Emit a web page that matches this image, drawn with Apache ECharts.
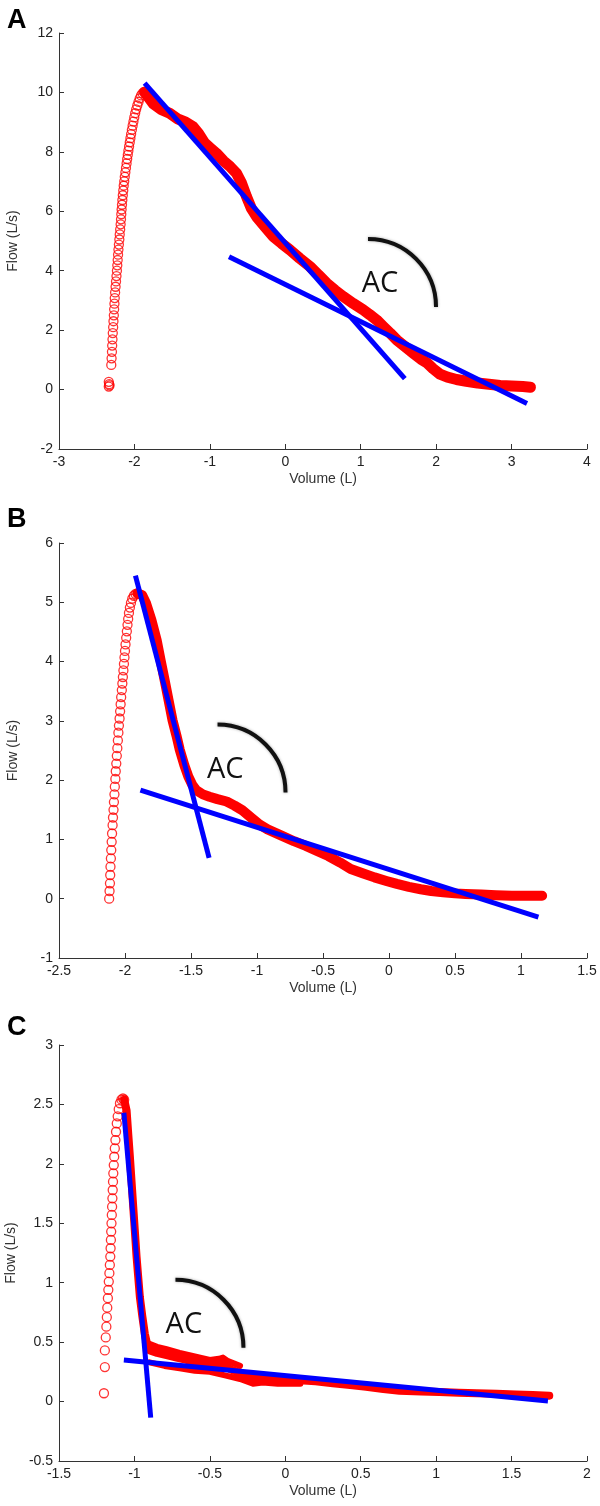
<!DOCTYPE html>
<html>
<head>
<meta charset="utf-8">
<script src="https://cdn.jsdelivr.net/npm/echarts@6/dist/echarts.min.js"></script>
<style>
html,body{margin:0;padding:0;background:#fff;}
#chart{width:600px;height:1506px;}
</style>
</head>
<body>
<div id="chart"></div>
<script>
// ---------- DATA (Volume L, Flow L/s) ----------
const panelLabels = ['A', 'B', 'C'];
const xAxisName = 'Volume (L)';
const yAxisName = 'Flow (L/s)';
const annotationText = 'AC';

// axis ranges [min, max, interval]
const aXRange = [-3, 4, 1];
const aYRange = [-2, 12, 2];
const bXRange = [-2.5, 1.5, 0.5];
const bYRange = [-1, 6, 1];
const cXRange = [-1.5, 2, 0.5];
const cYRange = [-0.5, 3, 0.5];

// Panel A
const aRise = [[-2.34,0.10],[-2.335,0.18],[-2.34,0.26],[-2.33,0.14],
[-2.307,0.83],[-2.303,1.05],[-2.298,1.27],[-2.295,1.48],[-2.291,1.69],[-2.287,1.90],[-2.282,2.10],[-2.278,2.30],[-2.273,2.50],[-2.269,2.70],[-2.265,2.89],[-2.261,3.08],[-2.256,3.27],[-2.250,3.46],[-2.244,3.64],[-2.238,3.82],[-2.232,4.00],[-2.227,4.18],[-2.222,4.36],[-2.217,4.54],[-2.212,4.71],[-2.206,4.88],[-2.200,5.05],[-2.195,5.22],[-2.189,5.39],[-2.183,5.56],[-2.178,5.73],[-2.174,5.90],
[-2.170,6.06],[-2.165,6.22],[-2.160,6.38],[-2.154,6.54],[-2.148,6.70],[-2.142,6.86],[-2.135,7.01],[-2.128,7.16],[-2.120,7.31],[-2.112,7.46],[-2.104,7.61],[-2.096,7.76],[-2.088,7.90],[-2.080,8.04],[-2.071,8.18],[-2.062,8.32],[-2.053,8.46],[-2.044,8.60],[-2.034,8.74],[-2.024,8.88],[-2.013,9.02],[-2.002,9.16],[-1.990,9.30],[-1.977,9.43],[-1.962,9.56],[-1.946,9.68],[-1.930,9.80],[-1.912,9.90],[-1.893,9.97],[-1.875,10.02],[-1.860,10.03]];
const aBand = [[-1.86,10.0],[-1.842,9.97],[-1.75,9.62],[-1.64,9.42],[-1.533,9.30],[-1.42,9.10],[-1.32,9.00],[-1.223,8.85],[-1.15,8.62],[-1.07,8.30],[-0.99,8.12],[-0.912,7.95],[-0.82,7.70],[-0.73,7.50],[-0.647,7.28],[-0.58,6.95],[-0.514,6.49],[-0.45,6.10],[-0.381,5.82],[-0.27,5.48],[-0.16,5.15],[-0.05,4.92],[0.061,4.70],[0.19,4.42],[0.327,4.14],[0.44,3.86],[0.548,3.58],[0.66,3.34],[0.769,3.13],[0.90,2.90],[1.034,2.68],[1.12,2.52],[1.212,2.34],[1.30,2.12],[1.39,1.90],[1.478,1.67],[1.59,1.44],[1.70,1.22],[1.80,1.02],[1.877,0.90],[1.96,0.70],[2.05,0.52],[2.15,0.42],[2.27,0.34],[2.40,0.28],[2.55,0.22],[2.70,0.18],[2.85,0.14],[3.00,0.12],[3.15,0.10],[3.25,0.08]];
const aFit1 = [[-1.865,10.31],[1.585,0.37]];
const aFit2 = [[-0.746,4.47],[3.205,-0.47]];
const aText = [1.255,3.57];
const aArc = [1.097,2.78];

// Panel B
const bRise = [[-2.120,0.00],[-2.117,0.13],[-2.114,0.26],[-2.112,0.40],[-2.110,0.54],[-2.107,0.68],[-2.104,0.82],[-2.101,0.96],[-2.098,1.10],[-2.094,1.24],[-2.091,1.37],[-2.087,1.50],[-2.084,1.63],[-2.080,1.76],[-2.077,1.89],[-2.073,2.02],[-2.070,2.15],[-2.066,2.28],[-2.062,2.41],[-2.058,2.54],[-2.054,2.67],[-2.050,2.80],[-2.046,2.92],[-2.041,3.04],[-2.037,3.16],[-2.033,3.28],[-2.029,3.40],[-2.024,3.52],[-2.020,3.63],[-2.016,3.74],[-2.012,3.85],[-2.008,3.96],[-2.004,4.07],[-2.000,4.18],[-1.996,4.29],[-1.991,4.40],[-1.986,4.51],[-1.981,4.62],[-1.976,4.72],[-1.970,4.82],[-1.963,4.91],[-1.955,4.99],[-1.945,5.06],[-1.933,5.11],[-1.920,5.14],[-1.905,5.15]];
const bBand = [[-1.905,5.15],[-1.87,5.12],[-1.84,4.98],[-1.80,4.70],[-1.76,4.36],[-1.73,4.02],[-1.70,3.69],[-1.67,3.35],[-1.64,3.01],[-1.61,2.75],[-1.585,2.51],[-1.55,2.25],[-1.52,2.06],[-1.49,1.92],[-1.46,1.83],[-1.41,1.76],[-1.36,1.72],[-1.30,1.68],[-1.23,1.64],[-1.17,1.57],[-1.11,1.49],[-1.04,1.36],[-0.98,1.25],[-0.92,1.17],[-0.81,1.06],[-0.72,0.97],[-0.63,0.89],[-0.55,0.81],[-0.46,0.72],[-0.37,0.61],[-0.29,0.50],[-0.20,0.43],[-0.11,0.36],[-0.02,0.30],[0.06,0.25],[0.15,0.20],[0.24,0.16],[0.32,0.13],[0.41,0.11],[0.50,0.09],[0.58,0.08],[0.70,0.07],[0.81,0.06],[0.93,0.05],[1.05,0.05],[1.16,0.05]];
const bFit1 = [[-1.921,5.45],[-1.363,0.69]];
const bFit2 = [[-1.883,1.83],[1.132,-0.31]];
const bText = [-1.241,2.18];
const bArc = [-1.299,1.79];

// Panel C
const cRise = [[-1.202,0.07],[-1.196,0.29],[-1.196,0.43],[-1.190,0.54],[-1.186,0.63],[-1.183,0.71],[-1.180,0.79],[-1.176,0.87],[-1.173,0.94],[-1.170,1.01],[-1.166,1.08],[-1.163,1.15],[-1.160,1.22],[-1.158,1.29],[-1.156,1.36],[-1.154,1.43],[-1.152,1.50],[-1.150,1.57],[-1.148,1.64],[-1.146,1.71],[-1.144,1.78],[-1.142,1.85],[-1.140,1.92],[-1.137,1.99],[-1.134,2.06],[-1.130,2.13],[-1.126,2.20],[-1.122,2.27],[-1.117,2.34],[-1.111,2.40],[-1.104,2.46],[-1.096,2.51],[-1.086,2.54],[-1.076,2.55],[-1.068,2.54]];
const cBand = [[-1.068,2.54],[-1.052,2.45],[-1.041,2.25],[-1.030,2.06],[-1.019,1.85],[-1.008,1.64],[-0.997,1.43],[-0.986,1.22],[-0.975,1.05],[-0.964,0.88],[-0.948,0.72],[-0.931,0.57],[-0.915,0.48],[-0.898,0.43],[-0.85,0.41],[-0.787,0.39],[-0.72,0.37],[-0.655,0.35],[-0.58,0.33],[-0.50,0.31],[-0.413,0.31],[-0.36,0.27],[-0.302,0.24],[-0.25,0.21],[-0.19,0.19],[-0.125,0.19],[0.0,0.19],[0.095,0.18],[0.20,0.17],[0.315,0.155],[0.43,0.14],[0.536,0.125],[0.65,0.105],[0.757,0.09],[0.90,0.085],[1.02,0.08],[1.15,0.075],[1.27,0.07],[1.40,0.065],[1.53,0.06],[1.64,0.055],[1.75,0.05]];
const cBandUpper = [[-0.93,0.50],[-0.85,0.46],[-0.787,0.44],[-0.70,0.41],[-0.60,0.38],[-0.50,0.35],[-0.44,0.36],[-0.413,0.37],[-0.38,0.34],[-0.30,0.30]];
const cBandLower = [[-0.90,0.33],[-0.80,0.30],[-0.70,0.28],[-0.60,0.26],[-0.50,0.25],[-0.40,0.22],[-0.30,0.19],[-0.214,0.15],[-0.15,0.16],[-0.05,0.15],[0.10,0.15]];
const cFit1 = [[-1.07,2.43],[-0.892,-0.135]];
const cFit2 = [[-1.07,0.35],[1.741,0.004]];
const cText = [-0.672,0.648];
const cArc = [-0.728,0.452];

// ---------- LAYOUT / STYLE ----------
const RED = '#ff0000', BLUE = '#0000ff';
const gridTops = [33, 543, 1045];
const gridHeights = [416, 415, 416];
const labelTops = [7, 506, 1014];
const bandWidths = [11, 10, 8];
const arcRadius = 68;
const axisFont = 'Liberation Sans';

const panels = [
  {xr: aXRange, yr: aYRange, rise: aRise, bands: [aBand], fits: [aFit1, aFit2], text: aText, arc: aArc},
  {xr: bXRange, yr: bYRange, rise: bRise, bands: [bBand], fits: [bFit1, bFit2], text: bText, arc: bArc},
  {xr: cXRange, yr: cYRange, rise: cRise, bands: [cBand, cBandUpper, cBandLower], fits: [cFit1, cFit2], text: cText, arc: cArc}
];
const extraBandWidth = 6;

const grid = [], xAxis = [], yAxis = [], series = [], title = [];
panels.forEach((p, i) => {
  grid.push({left: 59, top: gridTops[i], width: 528, height: gridHeights[i], containLabel: false, outerBoundsMode: 'none'});
  const common = {
    axisLine: {show: true, onZero: false, lineStyle: {color: '#333', width: 1}},
    axisTick: {show: true, inside: true, length: 5, lineStyle: {color: '#333', width: 1}},
    splitLine: {show: false},
    nameTextStyle: {fontFamily: axisFont, fontSize: 14, color: '#333'}
  };
  xAxis.push(Object.assign({}, common, {
    type: 'value', gridIndex: i, min: p.xr[0], max: p.xr[1], interval: p.xr[2],
    name: xAxisName, nameLocation: 'middle', nameGap: 23,
    axisLabel: {fontFamily: axisFont, fontSize: 14, color: '#222', margin: 6, showMinLabel: true, showMaxLabel: true}
  }));
  yAxis.push(Object.assign({}, common, {
    type: 'value', gridIndex: i, min: p.yr[0], max: p.yr[1], interval: p.yr[2],
    name: yAxisName, nameLocation: 'middle', nameGap: 39,
    axisLabel: {fontFamily: axisFont, fontSize: 14, color: '#222', margin: 6, showMinLabel: true, showMaxLabel: true}
  }));
  title.push({text: panelLabels[i], left: 7, top: labelTops[i], padding: 0,
    textStyle: {fontFamily: axisFont, fontSize: 27, fontWeight: 'bold', color: '#000'}});

  p.bands.forEach((b, k) => series.push({
    type: 'line', xAxisIndex: i, yAxisIndex: i, data: b, showSymbol: false, symbol: 'none',
    lineStyle: {color: RED, width: k === 0 ? bandWidths[i] : extraBandWidth, join: 'round', cap: 'round'}, z: 2, silent: true
  }));
  series.push({
    type: 'scatter', xAxisIndex: i, yAxisIndex: i, data: p.rise, symbol: 'circle', symbolSize: 9,
    itemStyle: {color: 'rgba(255,255,255,0)', borderColor: RED, borderWidth: 1.3}, z: 3, silent: true
  });
  p.fits.forEach(f => series.push({
    type: 'line', xAxisIndex: i, yAxisIndex: i, data: f, showSymbol: false, symbol: 'none',
    lineStyle: {color: BLUE, width: 5, cap: 'butt'}, z: 4, silent: true
  }));
  series.push({
    type: 'custom', xAxisIndex: i, yAxisIndex: i, data: [p.arc], z: 5, silent: true, clip: false,
    renderItem: (params, api) => {
      const c = api.coord([api.value(0), api.value(1)]);
      return {type: 'arc', shape: {cx: c[0], cy: c[1], r: arcRadius, startAngle: -Math.PI / 2, endAngle: 0, clockwise: true},
        style: {stroke: '#111', lineWidth: 4, fill: 'none', shadowBlur: 3, shadowColor: 'rgba(0,0,0,0.35)'}};
    }
  });
  series.push({
    type: 'custom', xAxisIndex: i, yAxisIndex: i, data: [p.text], z: 5, silent: true, clip: false,
    renderItem: (params, api) => {
      const c = api.coord([api.value(0), api.value(1)]);
      return {type: 'text', x: c[0], y: c[1],
        style: {text: annotationText, font: '29px "Open Sans"', fill: '#111', align: 'center', verticalAlign: 'middle'}};
    }
  });
});

const chart = echarts.init(document.getElementById('chart'), null, {renderer: 'canvas'});
chart.setOption({
  backgroundColor: '#ffffff',
  animation: false,
  title, grid, xAxis, yAxis, series
});
</script>
</body>
</html>
